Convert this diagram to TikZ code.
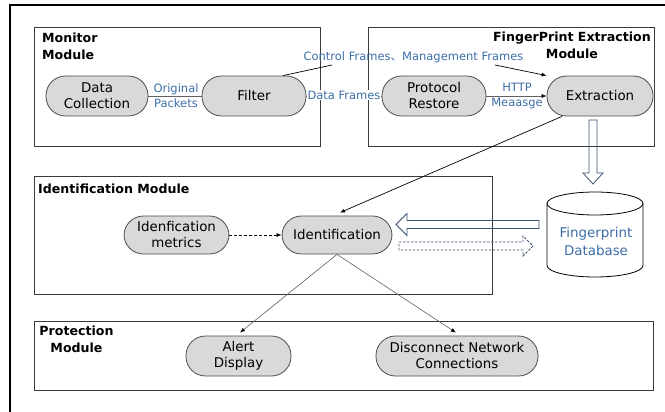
\documentclass[tikz,border=0pt]{standalone}
\usepackage{fontspec}
\setmainfont{DejaVu Sans}
\newfontfamily\cjkfont{Noto Sans CJK SC}
\usetikzlibrary{arrows.meta,calc}

\definecolor{nodefill}{HTML}{D9D9D9}
\definecolor{nodeedge}{HTML}{4D4D4D}
\definecolor{labelblue}{HTML}{3D6EA8}
\definecolor{arrowblue}{HTML}{3C5273}
\definecolor{boxedge}{HTML}{3A3A3A}
\definecolor{linkgray}{HTML}{606060}

\begin{document}
\begin{tikzpicture}[x=1pt,y=-1pt,
  every node/.style={inner sep=0pt},
  module/.style={draw=boxedge, line width=1pt},
  proc/.style={draw=nodeedge, fill=nodefill, line width=0.8pt, rounded corners=19.5pt,
    minimum height=40pt, align=center, font=\fontsize{13.4}{16}\selectfont},
  title/.style={font=\fontsize{12.6}{17}\selectfont\bfseries},
  lbl/.style={text=labelblue, align=center, font=\fontsize{11.5}{15}\selectfont},
  link/.style={draw=linkgray, line width=0.6pt},
  tip/.style={-{Latex[length=5pt,width=4pt,color=black]}},
  hollow/.style={draw=arrowblue, line width=0.8pt, line join=miter},
  db/.style={draw=black, line width=0.8pt},
]
\useasboundingbox (0,0) rectangle (665,412);

% page frame (top and left edges)
\draw[line width=1.3pt] (665,5) -- (10,5) -- (10,412);

% module boxes
\draw[module] (34,28) rectangle (320,147);
\draw[module] (368,28) rectangle (654,147);
\draw[module] (34,176) rectangle (492,294);
\draw[module] (34,321) rectangle (653,390);

% module titles
\node[title, anchor=north west, align=left] at (42,33) {Monitor\\Module};
\node[title, anchor=north, align=center] at (572,32) {FingerPrint Extraction\\Module};
\node[title, anchor=north west] at (38,184) {Identification Module};
\node[title, anchor=north, align=center] at (76.5,326) {Protection\\Module};

% process nodes
\node[proc, minimum width=102pt] (collect) at (97,96) {Data\\Collection};
\node[proc, minimum width=104pt] (filter) at (254,96) {Filter};
\node[proc, minimum width=104pt] (restore) at (434,96) {Protocol\\Restore};
\node[proc, minimum width=106pt] (extract) at (600,96) {Extraction};
\node[proc, minimum width=105pt, minimum height=38pt] (metrics) at (176.5,235) {Idenfication\\metrics};
\node[proc, minimum width=110pt, minimum height=38pt] (ident) at (337,235) {Identification};
\node[proc, minimum width=105pt] (alert) at (238.5,356) {Alert\\Display};
\node[proc, minimum width=162pt] (disconnect) at (457,356) {Disconnect Network\\Connections};

% fingerprint database
\draw[db, fill=white] (547,203.5) -- (547,265.5)
  arc[start angle=180, end angle=0, x radius=48, y radius=11.5] -- (643,203.5);
\draw[db] (595,203.5) ellipse [x radius=48, y radius=11.5];
\node[lbl, font=\fontsize{13.4}{18}\selectfont] (dbtext) at (596,242) {Fingerprint\\Database};

% monitor module flow
\draw[link] (collect) -- (filter);
\node[lbl] (origlbl) at (176,96) {Original\\Packets};
\draw[link] (filter) -- (restore);
\node[lbl, fill=white, inner xsep=0.5pt, inner ysep=1pt] (datalbl) at (344,95) {Data Frames};

% control / management frames
\coordinate (cA) at (332,65);
\coordinate (cB) at (495,65);
\node[lbl] (ctrl) at (413.5,57) {Control Frames{\cjkfont 、}Management Frames};
\draw[line width=0.7pt] ($(filter.north)+(29,0)$) -- (cA);
\draw[line width=0.7pt, tip] (cB) -- (extract.north west);

% protocol restore to extraction
\draw[link, tip] (restore) -- (extract);
\node[lbl] (httplbl) at (517,96) {HTTP\\Meaasge};

% extraction to identification
\draw[line width=0.7pt, tip] ($(extract.south)+(-38,0)$) -- ($(ident.north)+(3,-3)$);

% metrics feed identification
\draw[line width=0.7pt, dash pattern=on 3pt off 2pt, tip] (metrics) -- (ident);

% identification to protection actions
\draw[link, tip] (ident.south) -- ($(alert.north)+(1.5,-3)$);
\draw[link, tip] (ident.south) -- ($(disconnect.north)+(-1,-3)$);

% hollow arrows between extraction, database and identification
\draw[hollow] (589,120) -- (597,120) -- (597,173) -- (603,173) -- (593,184)
  -- (583,173) -- (589,173) -- cycle;
\draw[hollow] (539,220.5) -- (407,220.5) -- (407,213.5) -- (396,224.5)
  -- (407,235.5) -- (407,228.5) -- (539,228.5) -- cycle;
\draw[hollow, dash pattern=on 2.5pt off 1.5pt] (399,242) -- (523,242) -- (523,236)
  -- (533,246) -- (523,256) -- (523,250) -- (399,250) -- cycle;
\end{tikzpicture}
\end{document}
